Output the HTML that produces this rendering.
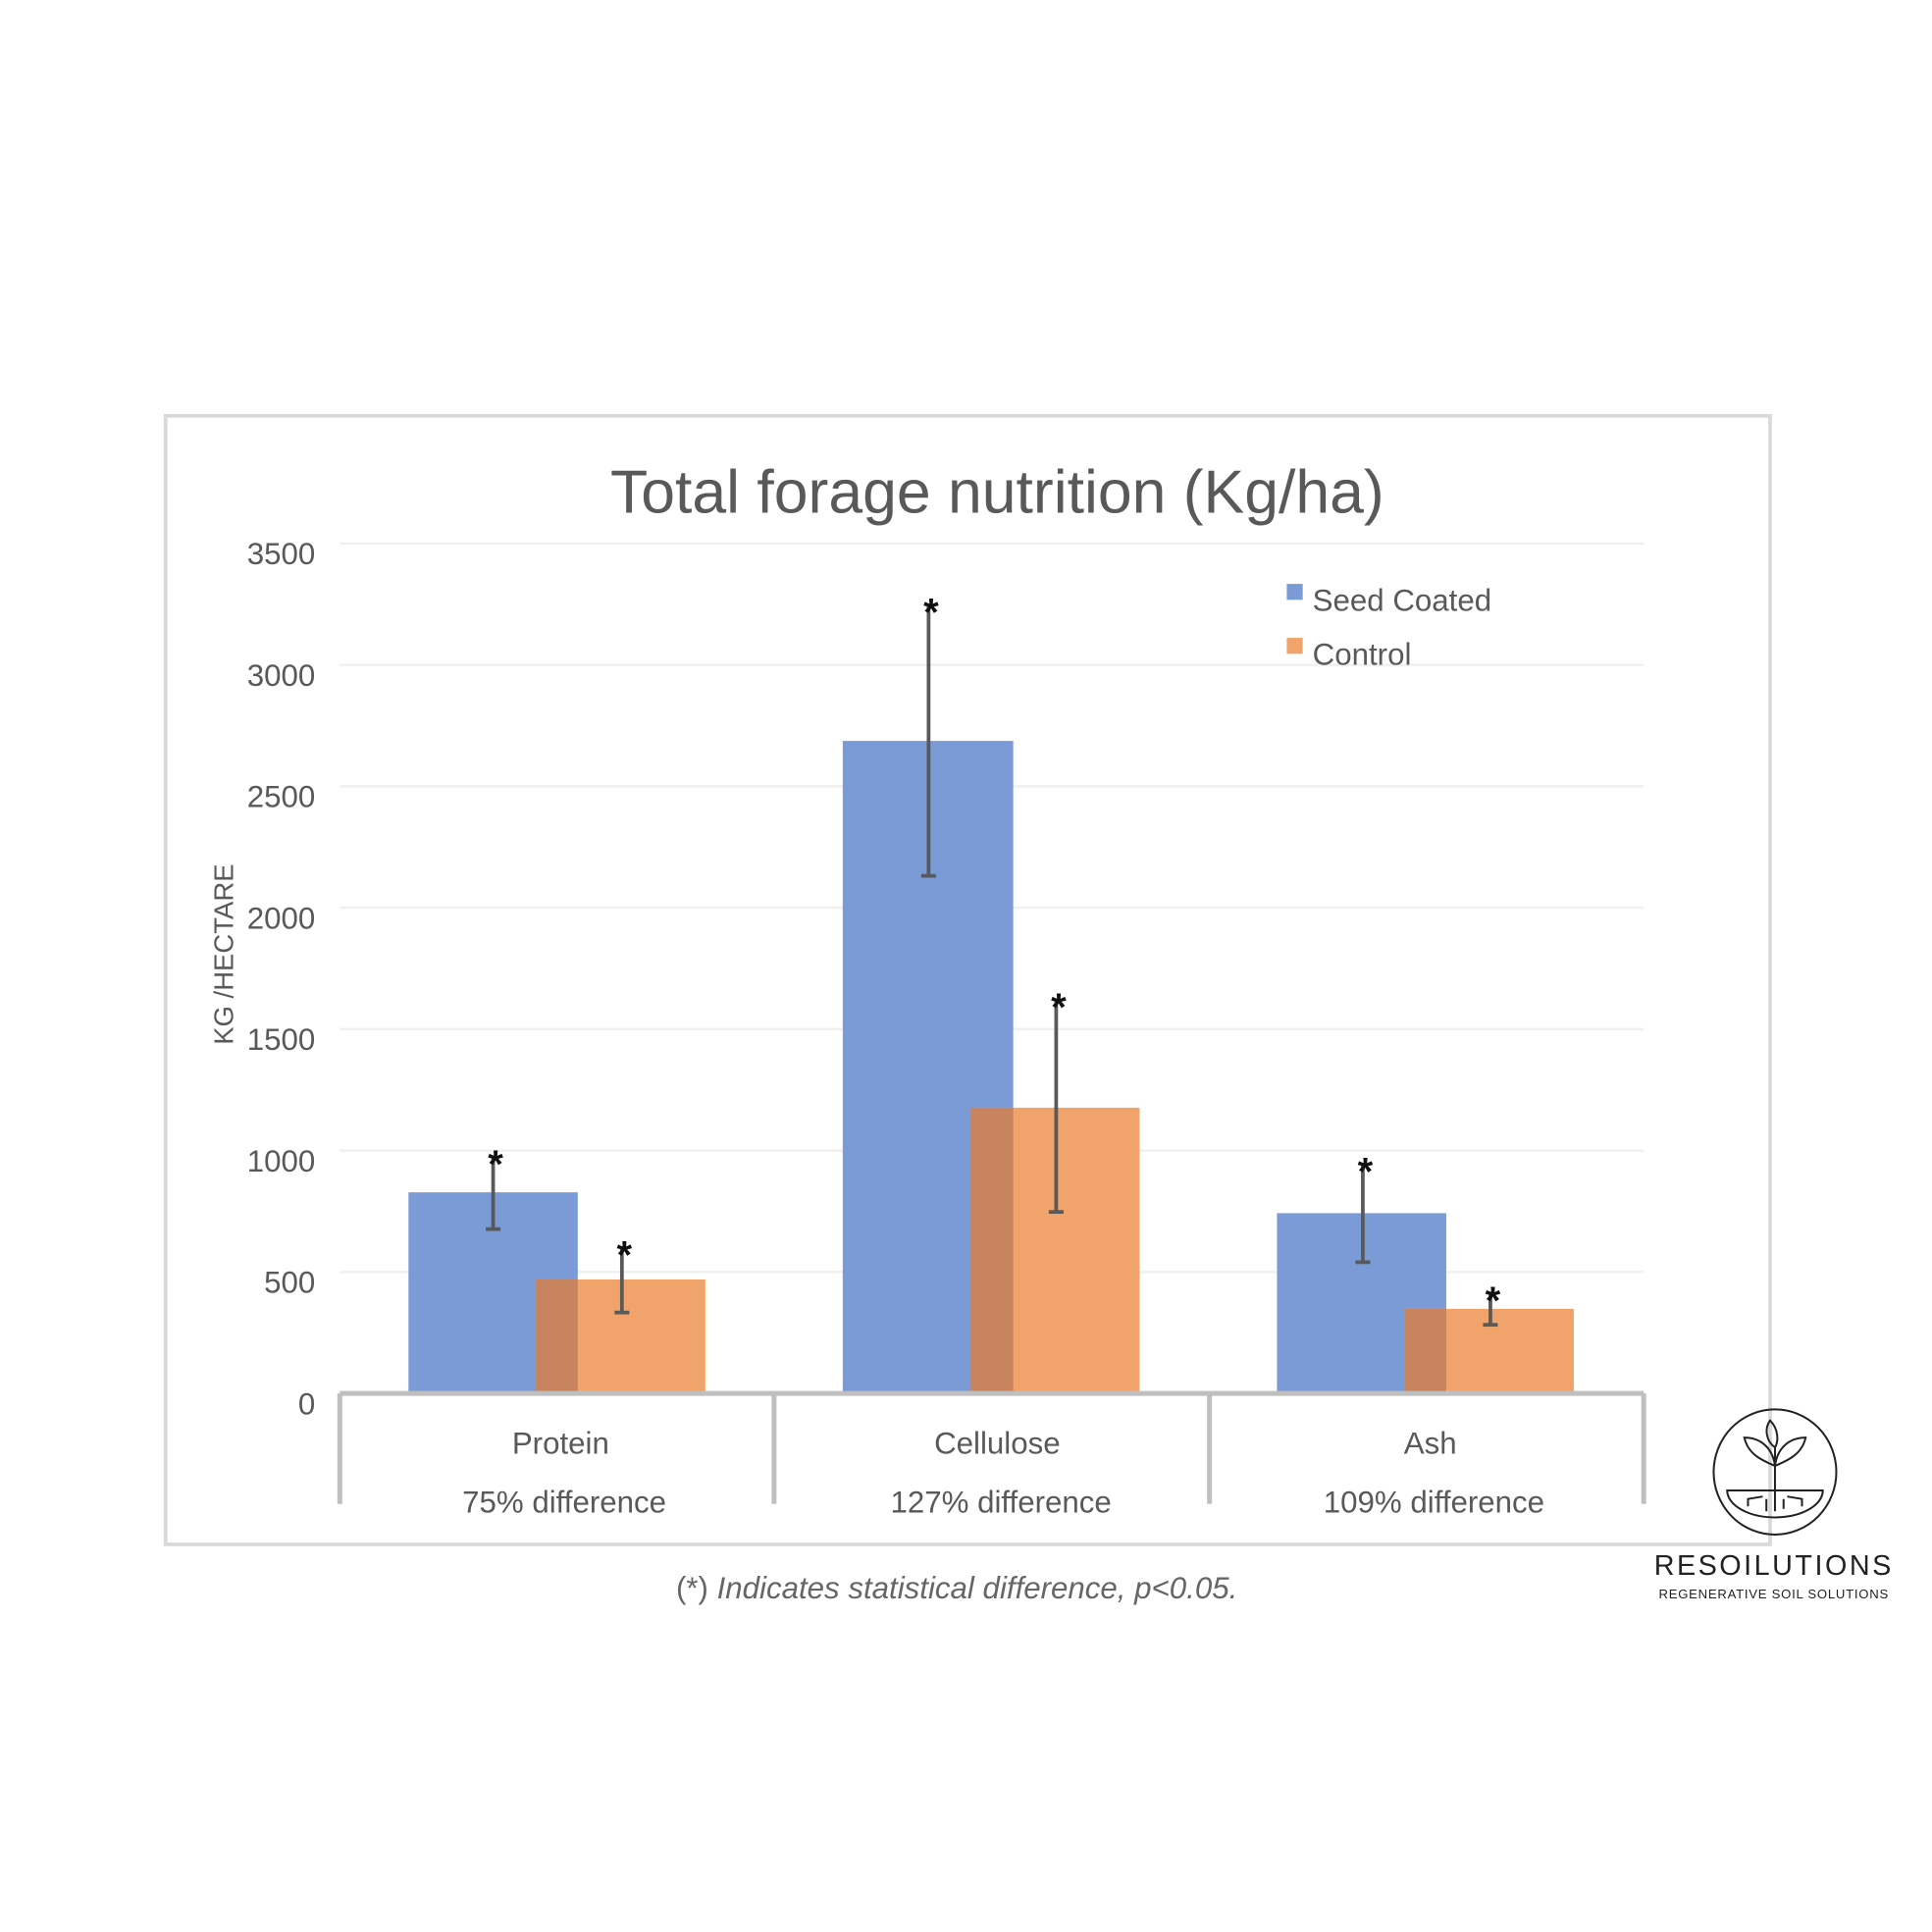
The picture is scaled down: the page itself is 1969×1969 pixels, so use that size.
<!DOCTYPE html>
<html><head><meta charset="utf-8"><style>html,body{margin:0;padding:0;background:#fff}svg{display:block}</style></head>
<body>
<svg width="1969" height="1969" viewBox="0 0 1575 1575" xmlns="http://www.w3.org/2000/svg" font-family="'Liberation Sans', sans-serif">
<rect x="0" y="0" width="1575" height="1575" fill="#fff"/>
<rect x="135" y="339" width="1308" height="920" fill="none" stroke="#d9d9d9" stroke-width="3"/>
<text x="813" y="418" text-anchor="middle" font-size="50" fill="#595959">Total forage nutrition (Kg/ha)</text>
<g stroke="#f0f0f0" stroke-width="2">
<line x1="277" y1="443" x2="1340" y2="443"/><line x1="277" y1="542" x2="1340" y2="542"/>
<line x1="277" y1="641" x2="1340" y2="641"/><line x1="277" y1="740" x2="1340" y2="740"/>
<line x1="277" y1="839" x2="1340" y2="839"/><line x1="277" y1="938" x2="1340" y2="938"/>
<line x1="277" y1="1037" x2="1340" y2="1037"/></g>
<g font-size="25" fill="#595959" text-anchor="end">
<text x="257" y="460">3500</text><text x="257" y="559">3000</text><text x="257" y="658">2500</text>
<text x="257" y="757">2000</text><text x="257" y="856">1500</text><text x="257" y="955">1000</text>
<text x="257" y="1054">500</text><text x="257" y="1153">0</text></g>
<text transform="translate(190,778) rotate(-90)" text-anchor="middle" font-size="22" fill="#595959">KG /HECTARE</text>
<rect x="333" y="972" width="138" height="164" fill="#7b9bd6"/>
<rect x="437" y="1043" width="138" height="93" fill="#f0a46b"/>
<rect x="437" y="1043" width="34" height="93" fill="#c7845f"/>
<rect x="687" y="604" width="139" height="532" fill="#7b9bd6"/>
<rect x="791" y="903" width="138" height="233" fill="#f0a46b"/>
<rect x="791" y="903" width="35" height="233" fill="#c7845f"/>
<rect x="1041" y="989" width="138" height="147" fill="#7b9bd6"/>
<rect x="1145" y="1067" width="138" height="69" fill="#f0a46b"/>
<rect x="1145" y="1067" width="34" height="69" fill="#c7845f"/>
<g stroke="#595959" stroke-width="3">
<line x1="402" y1="1002" x2="402" y2="942"/><line x1="396" y1="1002" x2="408" y2="1002"/>
<line x1="507" y1="1070" x2="507" y2="1016"/><line x1="501" y1="1070" x2="513" y2="1070"/>
<line x1="757" y1="714" x2="757" y2="492"/><line x1="751" y1="714" x2="763" y2="714"/>
<line x1="861" y1="988" x2="861" y2="814"/><line x1="855" y1="988" x2="867" y2="988"/>
<line x1="1111" y1="1029" x2="1111" y2="948"/><line x1="1105" y1="1029" x2="1117" y2="1029"/>
<line x1="1215" y1="1080" x2="1215" y2="1053"/><line x1="1209" y1="1080" x2="1221" y2="1080"/>
</g>
<g font-size="32" font-weight="bold" fill="#111" text-anchor="middle">
<text x="404" y="960">*</text><text x="509" y="1034">*</text><text x="759" y="510">*</text>
<text x="863" y="832">*</text><text x="1113" y="966">*</text><text x="1217" y="1071">*</text></g>
<g stroke="#bfbfbf" stroke-width="4">
<line x1="277" y1="1136" x2="1340" y2="1136"/>
<line x1="277" y1="1136" x2="277" y2="1226"/><line x1="631" y1="1136" x2="631" y2="1226"/>
<line x1="986" y1="1136" x2="986" y2="1226"/><line x1="1340" y1="1136" x2="1340" y2="1226"/></g>
<g font-size="25" fill="#595959" text-anchor="middle">
<text x="457" y="1185">Protein</text><text x="813" y="1185">Cellulose</text><text x="1166" y="1185">Ash</text>
<text x="460" y="1233">75% difference</text><text x="816" y="1233">127% difference</text><text x="1169" y="1233">109% difference</text></g>
<rect x="1049" y="476" width="13" height="13" fill="#7b9bd6"/>
<text x="1070" y="498" font-size="25" fill="#595959">Seed Coated</text>
<rect x="1049" y="520" width="13" height="13" fill="#f0a46b"/>
<text x="1070" y="542" font-size="25" fill="#595959">Control</text>
<text x="780" y="1303" text-anchor="middle" font-size="25" fill="#666"><tspan>(*) </tspan><tspan font-style="italic">Indicates statistical difference, p&lt;0.05.</tspan></text>
<g fill="none" stroke="#222" stroke-width="1.6">
<ellipse cx="1447" cy="1200" rx="50" ry="51"/>
<path d="M1408 1215 H1486 A39 22 0 0 1 1408 1215 Z"/>
<path d="M1447 1215 V1180 M1447 1195 C1435 1190 1425 1185 1422 1172 C1435 1172 1445 1180 1447 1195 M1447 1195 C1459 1190 1469 1185 1472 1172 C1459 1172 1449 1180 1447 1195 M1447 1180 C1440 1175 1438 1165 1443 1158 C1450 1165 1450 1175 1447 1180"/>
<path d="M1447 1215 V1232 M1437 1220 L1425 1222 V1228 M1457 1220 L1469 1222 V1228 M1440 1222 V1232 M1454 1222 V1230"/>
</g>
<text x="1446" y="1284" text-anchor="middle" font-size="23" letter-spacing="2" fill="#222">RESOILUTIONS</text>
<text x="1446" y="1303" text-anchor="middle" font-size="10.5" letter-spacing="0.6" fill="#222">REGENERATIVE SOIL SOLUTIONS</text>
</svg>
</body></html>
